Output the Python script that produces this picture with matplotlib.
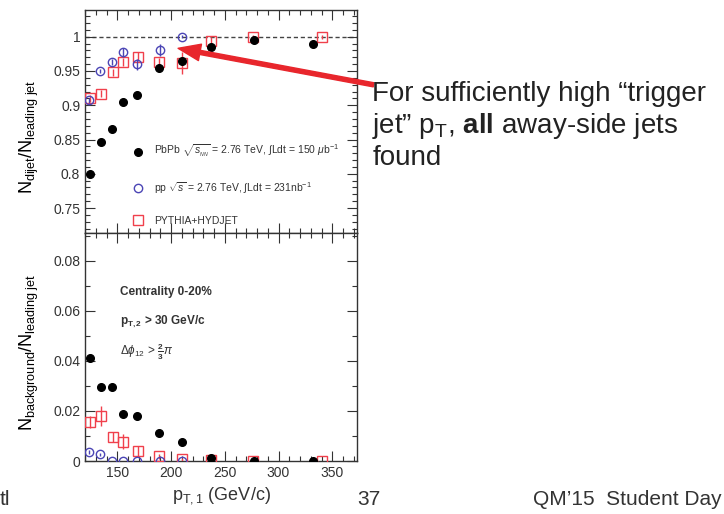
import matplotlib
matplotlib.use('Agg')
import matplotlib.pyplot as plt
from matplotlib.ticker import MultipleLocator
from matplotlib.lines import Line2D

plt.rcParams['font.family'] = ['Liberation Sans', 'DejaVu Sans']
plt.rcParams['mathtext.fontset'] = 'custom'
plt.rcParams['mathtext.rm'] = 'Liberation Sans'
plt.rcParams['mathtext.it'] = 'Liberation Sans:italic'
plt.rcParams['mathtext.bf'] = 'Liberation Sans:bold'

# leading jet pT bin centres (GeV/c)
pt_pbpb = [125, 135, 145, 155, 168, 189, 210, 237, 277, 332]
pt_pp = [124, 134, 145, 155, 168, 190, 210]
pt_mc = [125, 135, 146, 155, 169, 189, 210, 237, 276, 340]

# fraction of leading jets with a dijet partner
dijet_pbpb = [0.800, 0.846, 0.866, 0.904, 0.915, 0.955, 0.964, 0.985, 0.995, 0.990]
dijet_pbpb_err = [0.002, 0.002, 0.002, 0.002, 0.002, 0.003, 0.004, 0.003, 0.002, 0.004]
dijet_pp = [0.907, 0.950, 0.963, 0.977, 0.960, 0.981, 1.000]
dijet_pp_err = [0.004, 0.003, 0.005, 0.006, 0.008, 0.009, 0.002]
dijet_mc = [0.910, 0.917, 0.948, 0.963, 0.971, 0.963, 0.962, 0.994, 0.999, 0.999]
dijet_mc_err = [0.005, 0.005, 0.005, 0.006, 0.007, 0.006, 0.016, 0.006, 0.003, 0.003]

# fraction of leading jets paired with background
bkg_pbpb = [0.041, 0.0296, 0.0296, 0.0186, 0.018, 0.011, 0.0074, 0.0014, 0.0002, 0.0]
bkg_pbpb_err = [0.0012, 0.0012, 0.0012, 0.0012, 0.0012, 0.0012, 0.0012, 0.0008, 0.0004, 0.0003]
bkg_pp = [0.0036, 0.0026, 0.0, 0.0, 0.0, 0.0, 0.0]
bkg_pp_err = [0.0008, 0.0006, 0.0002, 0.0002, 0.0002, 0.0002, 0.0002]
bkg_mc = [0.0156, 0.018, 0.0094, 0.0076, 0.0040, 0.0019, 0.0007, 0.0003, 0.0002, 0.0]
bkg_mc_err = [0.0025, 0.004, 0.002, 0.003, 0.0018, 0.001, 0.0006, 0.0003, 0.0002, 0.0002]

BLUE = '#4b45b5'
RED = '#f0404c'

fig = plt.figure(figsize=(7.24, 5.14), dpi=100)
ax1 = fig.add_axes([0.1174, 0.5467, 0.3757, 0.4339])
ax2 = fig.add_axes([0.1174, 0.1031, 0.3757, 0.4436])


def draw_series(ax, pbpb, pbpb_err, pp, pp_err, mc, mc_err):
    ax.errorbar(pt_mc, mc, yerr=mc_err, fmt='s', ms=7.5, mfc='none', mec=RED,
                ecolor=RED, mew=1.0, elinewidth=1.0, zorder=3)
    ax.errorbar(pt_pp, pp, yerr=pp_err, fmt='o', ms=6, mfc='none', mec=BLUE,
                ecolor=BLUE, mew=1.0, elinewidth=1.0, zorder=4)
    ax.errorbar(pt_pbpb, pbpb, yerr=pbpb_err, fmt='o', ms=5.5, color='black',
                elinewidth=1.0, zorder=5)


def style_axes(ax):
    ax.set_xlim(120, 373)
    ax.xaxis.set_major_locator(MultipleLocator(50))
    ax.xaxis.set_minor_locator(MultipleLocator(10))
    ax.tick_params(which='both', direction='in', top=True, right=True,
                   labelsize=10, colors='#333333')
    ax.tick_params(which='major', length=7, width=0.8)
    ax.tick_params(which='minor', length=3.5, width=0.8)
    for s in ax.spines.values():
        s.set_linewidth(1.0)
        s.set_color('#333333')


draw_series(ax1, dijet_pbpb, dijet_pbpb_err, dijet_pp, dijet_pp_err, dijet_mc, dijet_mc_err)
ax1.axhline(1.0, color='#444444', ls=(0, (3, 2)), lw=1.0, zorder=1)
style_axes(ax1)
ax1.set_ylim(0.7136, 1.039)
ax1.yaxis.set_minor_locator(MultipleLocator(0.01))
ax1.set_yticks([0.75, 0.8, 0.85, 0.9, 0.95, 1.0])
ax1.set_yticklabels(['0.75', '0.8', '0.85', '0.9', '0.95', '1'])
ax1.tick_params(labelbottom=False)
ax1.set_ylabel(r'$\mathrm{N_{dijet}/N_{leading\ jet}}$', fontsize=13)
ax1.yaxis.set_label_coords(-0.16, 0.43)

handles = [
    Line2D([], [], ls='none', marker='o', ms=5.5, color='black'),
    Line2D([], [], ls='none', marker='o', ms=6, mfc='none', mec=BLUE),
    Line2D([], [], ls='none', marker='s', ms=7.5, mfc='none', mec=RED),
]
labels = [
    r'PbPb $\sqrt{s_{_{NN}}}$ = 2.76 TeV, $\int$Ldt = 150 $\mu$b$^{-1}$',
    r'pp $\sqrt{s}$ = 2.76 TeV, $\int$Ldt = 231nb$^{-1}$',
    'PYTHIA+HYDJET',
]
ax1.legend(handles, labels, loc='lower left', bbox_to_anchor=(0.15, 0.0),
           frameon=False, fontsize=7.5, labelspacing=1.9, handlelength=1.0,
           handletextpad=1.0, borderpad=0.2, labelcolor='#333333')

draw_series(ax2, bkg_pbpb, bkg_pbpb_err, bkg_pp, bkg_pp_err, bkg_mc, bkg_mc_err)
style_axes(ax2)
ax2.set_ylim(0, 0.0911)
ax2.yaxis.set_minor_locator(MultipleLocator(0.01))
ax2.set_yticks([0, 0.02, 0.04, 0.06, 0.08])
ax2.set_yticklabels(['0', '0.02', '0.04', '0.06', '0.08'])
ax2.set_ylabel(r'$\mathrm{N_{background}/N_{leading\ jet}}$', fontsize=13)
ax2.yaxis.set_label_coords(-0.16, 0.478)
ax2.set_xlabel(r'$\mathrm{p_{T,1}}$ (GeV/c)', fontsize=13, labelpad=4, color='#333333')

ax2.text(0.13, 0.74, 'Centrality 0-20%', transform=ax2.transAxes, fontsize=8.5,
         fontweight='bold', color='#333333', va='center')
ax2.text(0.13, 0.61, r'$\mathbf{p_{T,2}}$ > 30 GeV/c', transform=ax2.transAxes,
         fontsize=8.5, fontweight='bold', color='#333333', va='center')
ax2.text(0.13, 0.48, r'$\Delta\phi_{12}$ > $\frac{\mathbf{2}}{\mathbf{3}}\pi$',
         transform=ax2.transAxes, fontsize=8.5, color='#333333', va='center')

# call-out with arrow
fig.text(0.514, 0.843,
         'For sufficiently high \u201ctrigger\njet\u201d p$_\\mathrm{T}$, '
         '$\\mathbf{all}$ away-side jets\nfound',
         fontsize=20, color='#222222', va='top', ha='left', linespacing=1.2)
fig.add_artist(plt.Annotation('', xy=(0.246, 0.906), xytext=(0.516, 0.835),
                              xycoords='figure fraction', textcoords='figure fraction',
                              arrowprops=dict(color='#e8262c', width=3, headwidth=12,
                                              headlength=16, shrink=0)))

# slide footer
fig.text(0.0, 0.028, 'tl', fontsize=15, color='#333333', va='center')
fig.text(0.493, 0.028, '37', fontsize=15, color='#333333', va='center')
fig.text(0.736, 0.028, "QM\u201915  Student Day", fontsize=15, color='#333333', va='center')

fig.savefig('out.png', dpi=100)
